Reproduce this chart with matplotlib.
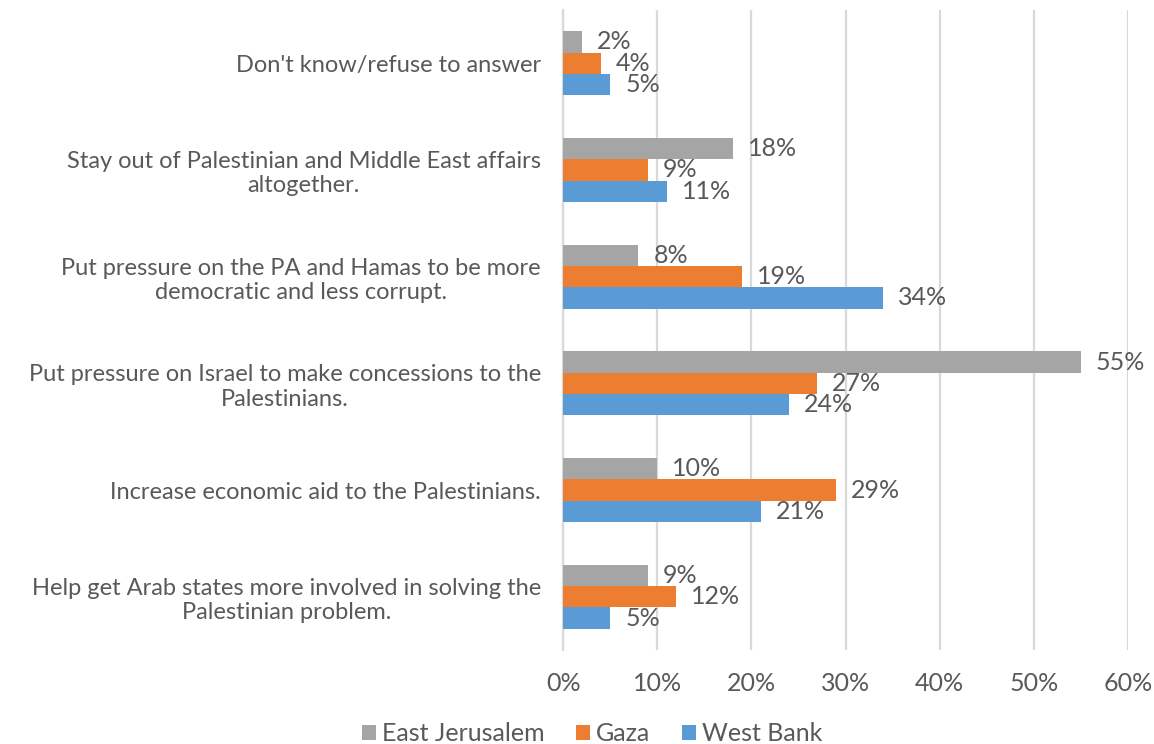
import matplotlib.pyplot as plt
import numpy as np

plt.rcParams['font.family'] = ['Lato', 'DejaVu Sans']

# Categories listed bottom to top
categories = [
    "Help get Arab states more involved in solving the\nPalestinian problem.",
    "Increase economic aid to the Palestinians.",
    "Put pressure on Israel to make concessions to the\nPalestinians.",
    "Put pressure on the PA and Hamas to be more\ndemocratic and less corrupt.",
    "Stay out of Palestinian and Middle East affairs\naltogether.",
    "Don't know/refuse to answer",
]
east_jerusalem = [9, 10, 55, 8, 18, 2]
gaza = [12, 29, 27, 19, 9, 4]
west_bank = [5, 21, 24, 34, 11, 5]

series_names = ["East Jerusalem", "Gaza", "West Bank"]
colors = ["#a5a5a5", "#ed7d31", "#5b9bd5"]
text_color = "#595959"

fig = plt.figure(figsize=(11.54, 7.44), dpi=100)
ax = fig.add_axes([0.488, 0.1263, 0.4895, 0.8603])

y = np.arange(len(categories))
h = 0.2
offsets = [h, 0, -h]
all_series = [east_jerusalem, gaza, west_bank]

handles = []
for vals, off, col, name in zip(all_series, offsets, colors, series_names):
    bars = ax.barh(y + off, vals, height=h, color=col, label=name, zorder=3)
    handles.append(bars)
    for b, v in zip(bars, vals):
        ax.annotate(f"{v}%", (b.get_width(), b.get_y() + b.get_height() / 2),
                    xytext=(15, 0), textcoords="offset pixels",
                    va="center", ha="left", fontsize=18, color=text_color)

ax.set_xlim(0, 60)
ax.set_ylim(-0.5, len(categories) - 0.5)
ax.set_xticks(np.arange(0, 61, 10))
ax.set_xticklabels([f"{t}%" for t in range(0, 61, 10)], fontsize=18)
ax.set_yticks(y)
ax.set_yticklabels(categories, multialignment="center", fontsize=17)
ax.tick_params(axis="both", length=0, colors=text_color)
ax.tick_params(axis="y", pad=16)
ax.tick_params(axis="x", pad=16)

ax.grid(axis="x", color="#d9d9d9", linewidth=1.6, zorder=0)
for s in ["top", "right", "bottom"]:
    ax.spines[s].set_visible(False)
ax.spines["left"].set_color("#d9d9d9")
ax.spines["left"].set_linewidth(1.6)

leg = fig.legend(handles=handles, labels=series_names, loc="center",
                 bbox_to_anchor=(0.513, 0.014), ncol=3, frameon=False,
                 fontsize=18, handlelength=0.56, handleheight=0.56,
                 handletextpad=0.25, columnspacing=1.25)
for t in leg.get_texts():
    t.set_color(text_color)

fig.savefig("out.png", dpi=100)
